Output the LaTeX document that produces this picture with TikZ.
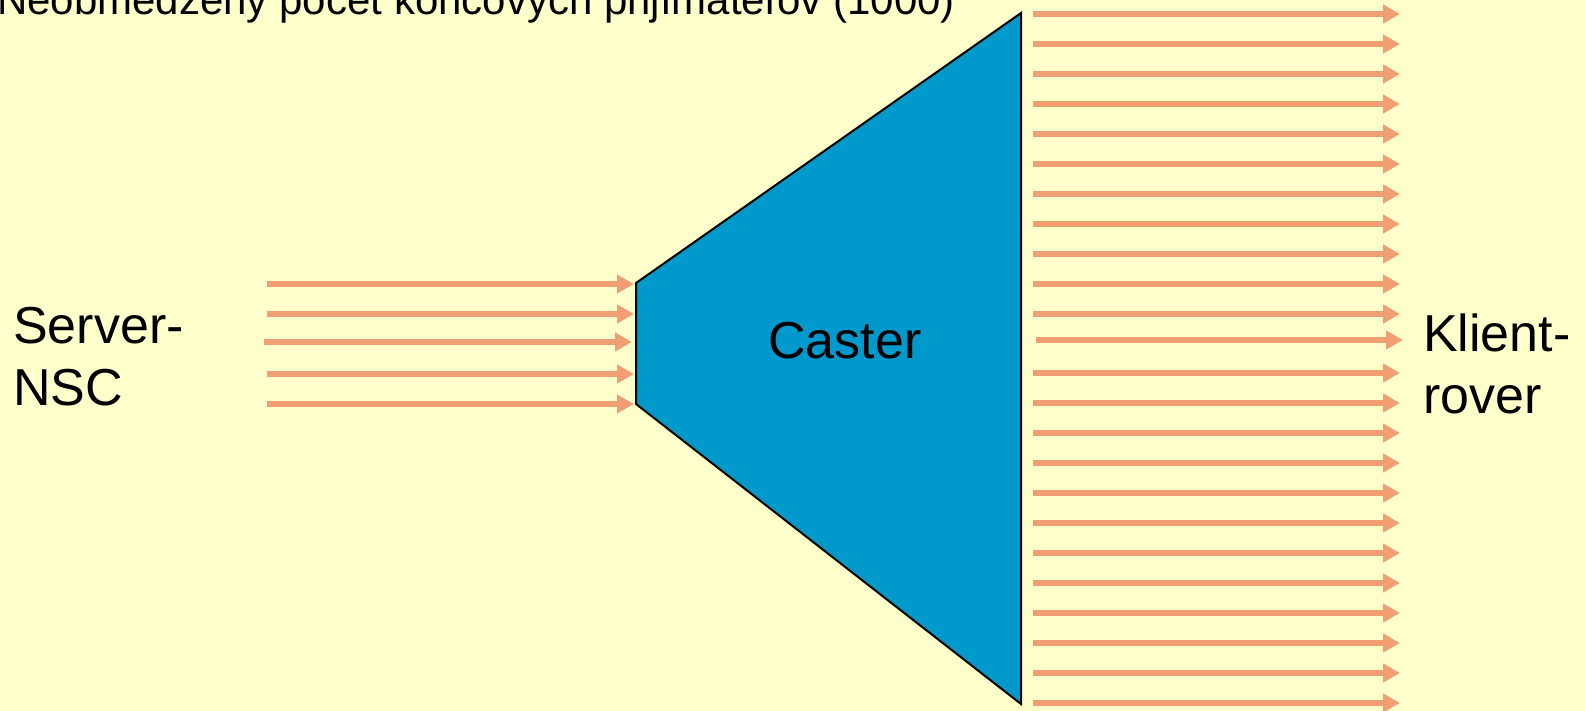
\documentclass[tikz,border=0pt]{standalone}
\usepackage{fontspec}
\setmainfont{Liberation Sans}
\usetikzlibrary{arrows.meta}
\definecolor{bgyellow}{HTML}{FFFFCC}
\definecolor{casterblue}{HTML}{0099CC}
\definecolor{streamorange}{RGB}{240,158,114}
\begin{document}
\begin{tikzpicture}[x=1pt, y=-1pt]
      \tikzstyle{stream} = [draw=streamorange, line width=6pt, -{Triangle[length=17pt, width=18pt]}]
      \tikzstyle{lbl} = [inner sep=0pt, align=left, font=\fontsize{52}{62}\selectfont]

      \useasboundingbox (0,0) rectangle (1585,711);
      \fill[bgyellow] (0,0) rectangle (1585,711);

      %%%%%%%%%%%%%%%%%%%%%%%%%%%%%%
      %% The caster
      %%%%%%%%%%%%%%%%%%%%%%%%%%%%%%
      \coordinate (c1) at (636,283);
      \coordinate (c2) at (1021,13);
      \coordinate (c3) at (1021,704);
      \coordinate (c4) at (636,404);
      \draw[fill=casterblue, line width=2pt] (c1) -- (c2) -- (c3) -- (c4) -- cycle;
      \node[lbl, anchor=base] (caster) at (845,358) {Caster};

      %%%%%%%%%%%%%%%%%%%%%%%%%%%%%%
      %% Incoming streams
      %%%%%%%%%%%%%%%%%%%%%%%%%%%%%%
      \node[lbl, anchor=base west] (server) at (13,405) {Server-\\NSC};

      \coordinate (in1s) at (267,284); \coordinate (in1t) at (634,284);
      \coordinate (in2s) at (267,314); \coordinate (in2t) at (634,314);
      \coordinate (in3s) at (264,342); \coordinate (in3t) at (632,342);
      \coordinate (in4s) at (267,374); \coordinate (in4t) at (634,374);
      \coordinate (in5s) at (267,404); \coordinate (in5t) at (634,404);

      \draw[stream] (in1s) -- (in1t);
      \draw[stream] (in2s) -- (in2t);
      \draw[stream] (in3s) -- (in3t);
      \draw[stream] (in4s) -- (in4t);
      \draw[stream] (in5s) -- (in5t);

      %%%%%%%%%%%%%%%%%%%%%%%%%%%%%%
      %% Outgoing streams
      %%%%%%%%%%%%%%%%%%%%%%%%%%%%%%
      \node[lbl, anchor=base west] (client) at (1423,413) {Klient-\\rover};
      \node[inner sep=0pt, anchor=base west, font=\fontsize{42}{50}\selectfont] (title) at (-3,15)
        {Neobmedzený počet koncových prijímateľov (1000)};

      \foreach \i/\y in {1/14, 2/44, 3/74, 4/104, 5/134, 6/164, 7/194, 8/224, 9/254, 10/284, 11/314,
                         13/373, 14/403, 15/433, 16/463, 17/493, 18/523, 19/553, 20/583, 21/613, 22/643, 23/673, 24/703}
      {
        \coordinate (out\i s) at (1033,\y);
        \coordinate (out\i t) at (1400,\y);
        \draw[stream] (out\i s) -- (out\i t);
      }
      \coordinate (out12s) at (1036,340); \coordinate (out12t) at (1403,340);
      \draw[stream] (out12s) -- (out12t);

\end{tikzpicture}
\end{document}
